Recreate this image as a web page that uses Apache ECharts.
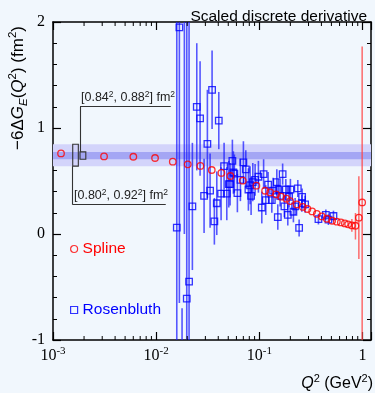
<!DOCTYPE html>
<html><head><meta charset="utf-8">
<script src="https://cdn.jsdelivr.net/npm/echarts@6/dist/echarts.min.js"></script>
<style>html,body{margin:0;padding:0;background:#f1f7fd}#c{width:375px;height:393px}</style>
</head><body><div id="c"></div>
<script>
// ---- data ----
const splineQ2 = [0.001196,0.003125,0.006010,0.009756,0.01449,0.02025,0.02684,0.03461,0.04290,0.05244,0.06918,0.09374,0.1138,0.1273,0.1455,0.1627,0.1832,0.1989,0.2310,0.2642,0.2928,0.3252,0.3611,0.4039,0.4516,0.5083,0.5645,0.6173,0.6751,0.7266,0.7894,0.8553,0.9228,0.9933];
const splineVal = [0.760,0.732,0.729,0.717,0.682,0.657,0.642,0.604,0.576,0.547,0.503,0.456,0.408,0.392,0.374,0.352,0.333,0.311,0.279,0.255,0.236,0.213,0.189,0.166,0.144,0.125,0.116,0.109,0.100,0.091,0.081,0.078,0.154,0.298];
const splineErrUp   = [0,0,0,0,0,0,0,0,0,0,0,0,0,0,0,0,0,0,0,0,0,0,0,0,0,0,0,0,0,0,0.06,0.12,0.39,1.47];
const splineErrDown = [0,0,0,0,0,0,0,0,0,0,0,0,0,0,0,0,0,0,0,0,0,0,0,0,0,0,0,0,0,0,0.06,0.13,0.39,2.6];

const rosenQ2 = [0.01585,0.01679,0.01783,0.01877,0.01980,0.02085,0.02245,0.02476,0.02666,0.02915,0.03138,0.03333,0.03485,0.03668,0.03870,0.04047,0.04261,0.04556,0.04839,0.05060,0.05209,0.05483,0.05607,0.05733,0.06131,0.06557,0.07012,0.07398,0.07839,0.08142,0.08326,0.08650,0.09106,0.09802,0.1057,0.1101,0.1156,0.1217,0.1322,0.1361,0.1478,0.1511,0.1532,0.1591,0.1683,0.1752,0.1807,0.1889,0.1945,0.2002,0.2141,0.2224,0.2362,0.2432,0.2583,0.2601,0.2781,0.3744,0.4416,0.4679,0.5233];
const rosenVal = [0.06,1.95,-1.6,2.6,-0.61,-0.45,0.26,1.20,1.09,0.36,0.85,0.41,1.36,0.12,0.29,1.07,0.38,0.64,0.38,0.47,0.47,0.69,0.58,0.57,0.385,0.51,0.675,0.61,0.42,0.46,0.36,0.49,0.51,0.54,0.25,0.565,0.32,0.465,0.32,0.41,0.49,0.16,0.42,0.36,0.565,0.26,0.42,0.18,0.35,0.42,0.21,0.26,0.43,0.057,0.29,0.35,0.28,0.14,0.18,0.135,0.17];
const rosenErr = [3.0,2.6,0.9,2.6,2.8,2.6,0.6,0.6,0.54,0.35,0.51,0.35,0.37,0.22,0.3,0.27,0.25,0.22,0.25,0.22,0.2,0.2,0.2,0.18,0.18,0.2,0.2,0.18,0.2,0.18,0.18,0.18,0.15,0.15,0.15,0.14,0.14,0.12,0.12,0.12,0.12,0.12,0.1,0.1,0.1,0.1,0.1,0.1,0.1,0.1,0.1,0.08,0.08,0.08,0.08,0.08,0.08,0.05,0.05,0.05,0.05];

const innerBand = [0.7056, 0.7744];   // [0.84^2, 0.88^2]
const outerBand = [0.64, 0.8464];     // [0.80^2, 0.92^2]
const xMin = 0.001, xMax = 1.21;
const yMin = -1, yMax = 2;
const xTickLabels = {'-3':'{b|10}{s|-3}','-2':'{b|10}{s|-2}','-1':'{b|10}{s|-1}','0':'{b|1}'};
// bracket geometry (data coords)
const outerBox = [[0.001553, 0.00176], outerBand];
const innerBox = [[0.001828, 0.00208], innerBand];
const upperLeader = [[0.001828, 0.7744], [0.001828, 1.204], [0.01385, 1.204]];
const lowerLeader = [[0.001553, 0.64], [0.001553, 0.276], [0.01239, 0.276]];

const xMinor = [];
for (let d = -3; d < 0; d++) for (let k = 2; k <= 9; k++) xMinor.push(k * Math.pow(10, d));

const SANS = 'Liberation Sans, Arial, sans-serif';
const SERIF = 'Liberation Serif, Times New Roman, serif';

function errRender(color, width) {
  return function (params, api) {
    const cs = params.coordSys;
    const x = api.value(0), lo = api.value(1), hi = api.value(2);
    if (hi === lo) return null;
    const p1 = api.coord([x, hi]), p2 = api.coord([x, lo]);
    const cl = v => Math.max(cs.y, Math.min(cs.y + cs.height, v));
    return {type: 'line', shape: {x1: p1[0], y1: cl(p1[1]), x2: p2[0], y2: cl(p2[1])},
            style: {stroke: color, lineWidth: width}};
  };
}

const chart = echarts.init(document.getElementById('c'), null, {renderer: 'canvas'});
const xAxisBase = {type: 'log', logBase: 10, min: xMin, max: xMax,
  axisLine: {show: true, onZero: false, lineStyle: {color: '#000', width: 1.5}},
  axisTick: {show: true, inside: true, length: 8, lineStyle: {color: '#000', width: 1.2}},
  splitLine: {show: false}, minorTick: {show: false}};
const yAxisBase = {type: 'value', min: yMin, max: yMax, interval: 1,
  axisLine: {show: true, onZero: false, lineStyle: {color: '#000', width: 1.5}},
  axisTick: {show: true, inside: true, length: 8, lineStyle: {color: '#000', width: 1.2}},
  minorTick: {show: true, splitNumber: 5, length: 4, lineStyle: {color: '#000', width: 1}},
  splitLine: {show: false}};

const option = {
  backgroundColor: '#f1f7fd',
  animation: false,
  grid: {left: 53, right: 4, top: 22, bottom: 53, containLabel: false, outerBoundsMode: 'none'},
  title: {text: 'Scaled discrete derivative', right: 3, top: 4,
    textStyle: {fontFamily: SANS, fontSize: 15.5, fontWeight: 'normal', color: '#000'}},
  xAxis: [
    Object.assign({}, xAxisBase, {position: 'bottom',
      axisLabel: {margin: 6, formatter: function (v) {
          const l = Math.round(Math.log10(v));
          if (Math.abs(Math.log10(v) - l) > 1e-6) return '';
          return xTickLabels[String(l)] || '';
        },
        rich: {b: {fontFamily: SERIF, fontSize: 16, color: '#000', lineHeight: 20},
               s: {fontFamily: SERIF, fontSize: 11, color: '#000', lineHeight: 12, verticalAlign: 'top'}}}}),
    Object.assign({}, xAxisBase, {position: 'top', axisLabel: {show: false}})
  ],
  yAxis: [
    Object.assign({}, yAxisBase, {position: 'left',
      axisLabel: {margin: 8, fontFamily: SERIF, fontSize: 16, color: '#000'}}),
    Object.assign({}, yAxisBase, {position: 'right', axisLabel: {show: false}})
  ],
  legend: {orient: 'vertical', left: 65, top: 236, itemGap: 45, itemWidth: 7, itemHeight: 7,
    textStyle: {fontFamily: SANS, fontSize: 15.5},
    selectedMode: false,
    data: [
      {name: 'Spline', icon: 'circle', itemStyle: {color: 'rgba(0,0,0,0)', borderColor: '#ff0000', borderWidth: 1.2}, textStyle: {color: '#ff0000'}},
      {name: 'Rosenbluth', icon: 'rect', itemStyle: {color: 'rgba(0,0,0,0)', borderColor: '#0000ff', borderWidth: 1.2}, textStyle: {color: '#0000ff'}}
    ]},
  graphic: [
    {type: 'text', x: 18, y: 88, rotation: Math.PI / 2,
      style: {text: '{n|−6Δ}{i|G}{sub|E}{n|(}{i|Q}{sup|2}{n|) (fm}{sup|2}{n|)}',
        align: 'center', verticalAlign: 'middle',
        rich: {n: {fontFamily: SANS, fontSize: 17, lineHeight: 23, fill: '#000'},
               i: {fontFamily: SANS, fontSize: 17, fontStyle: 'italic', lineHeight: 23, fill: '#000'},
               sup: {fontFamily: SANS, fontSize: 11.5, lineHeight: 12, verticalAlign: 'top', fill: '#000'},
               sub: {fontFamily: SANS, fontSize: 11.5, fontStyle: 'italic', lineHeight: 12, verticalAlign: 'bottom', fill: '#000'}}}},
    {type: 'text', x: 373, y: 384,
      style: {text: '{i|Q}{sup|2}{n| (GeV}{sup|2}{n|)}', align: 'right', verticalAlign: 'middle',
        rich: {n: {fontFamily: SANS, fontSize: 16, lineHeight: 22, fill: '#000'},
               i: {fontFamily: SANS, fontSize: 16, fontStyle: 'italic', lineHeight: 22, fill: '#000'},
               sup: {fontFamily: SANS, fontSize: 11, lineHeight: 12, verticalAlign: 'top', fill: '#000'}}}},
    {type: 'text', x: 81, y: 98,
      style: {text: '{n|[0.84}{sup|2}{n|, 0.88}{sup|2}{n|] fm}{sup|2}', align: 'left', verticalAlign: 'middle',
        rich: {n: {fontFamily: SANS, fontSize: 12.5, lineHeight: 16, fill: '#222'},
               sup: {fontFamily: SANS, fontSize: 8.5, lineHeight: 10, verticalAlign: 'top', fill: '#222'}}}},
    {type: 'text', x: 74, y: 196,
      style: {text: '{n|[0.80}{sup|2}{n|, 0.92}{sup|2}{n|] fm}{sup|2}', align: 'left', verticalAlign: 'middle',
        rich: {n: {fontFamily: SANS, fontSize: 12.5, lineHeight: 16, fill: '#222'},
               sup: {fontFamily: SANS, fontSize: 8.5, lineHeight: 10, verticalAlign: 'top', fill: '#222'}}}}
  ],
  series: [
    {name: 'bands', type: 'line', data: [], z: 1, silent: true,
      markArea: {silent: true, data: [
        [{xAxis: xMin, yAxis: outerBand[0], itemStyle: {color: '#d3d4fb', opacity: 1, borderWidth: 0}}, {xAxis: xMax, yAxis: outerBand[1]}],
        [{xAxis: xMin, yAxis: innerBand[0], itemStyle: {color: '#a4a6f4', opacity: 1, borderWidth: 0}}, {xAxis: xMax, yAxis: innerBand[1]}]
      ]}},
    {name: 'brackets', type: 'line', data: [], z: 5, silent: true,
      markArea: {silent: true, itemStyle: {color: 'rgba(0,0,0,0)', borderColor: '#333', borderWidth: 1.1, opacity: 1},
        data: [
          [{xAxis: outerBox[0][0], yAxis: outerBox[1][0]}, {xAxis: outerBox[0][1], yAxis: outerBox[1][1]}],
          [{xAxis: innerBox[0][0], yAxis: innerBox[1][0]}, {xAxis: innerBox[0][1], yAxis: innerBox[1][1]}]
        ]},
      markLine: {silent: true, symbol: 'none', label: {show: false},
        lineStyle: {color: '#333', width: 1.1, type: 'solid'},
        data: [
          [{coord: upperLeader[0]}, {coord: upperLeader[1]}],
          [{coord: upperLeader[1]}, {coord: upperLeader[2]}],
          [{coord: lowerLeader[0]}, {coord: lowerLeader[1]}],
          [{coord: lowerLeader[1]}, {coord: lowerLeader[2]}]
        ]}},
    {name: 'rosenErr', type: 'custom', z: 2, silent: true,
      renderItem: errRender('rgba(25,25,255,0.72)', 1.6),
      data: rosenQ2.map((q, i) => [q, rosenVal[i] - rosenErr[i], rosenVal[i] + rosenErr[i]])},
    {name: 'splineErr', type: 'custom', z: 2, silent: true,
      renderItem: errRender('rgba(255,70,70,0.8)', 1.5),
      data: splineQ2.map((q, i) => [q, splineVal[i] - splineErrDown[i], splineVal[i] + splineErrUp[i]])},
    {name: 'Rosenbluth', type: 'scatter', z: 3, symbol: 'rect', symbolSize: 6.5,
      itemStyle: {color: 'rgba(0,0,0,0)', borderColor: '#0000ff', borderWidth: 1.3},
      data: rosenQ2.map((q, i) => [q, rosenVal[i]])},
    {name: 'Spline', type: 'scatter', z: 4, symbol: 'circle', symbolSize: 6.5,
      itemStyle: {color: 'rgba(0,0,0,0)', borderColor: '#ff0000', borderWidth: 1.3},
      data: splineQ2.map((q, i) => [q, splineVal[i]])},
    {name: 'minorTicks', type: 'custom', z: 6, silent: true,
      renderItem: function (params, api) {
        const cs = params.coordSys;
        const x = api.coord([api.value(0), 0])[0];
        const b = cs.y + cs.height;
        return {type: 'group', children: [
          {type: 'line', shape: {x1: x, y1: b, x2: x, y2: b - 4}, style: {stroke: '#000', lineWidth: 1}},
          {type: 'line', shape: {x1: x, y1: cs.y, x2: x, y2: cs.y + 4}, style: {stroke: '#000', lineWidth: 1}}
        ]};
      },
      data: xMinor.map(v => [v, 0])}
  ]
};
chart.setOption(option);
</script></body></html>
